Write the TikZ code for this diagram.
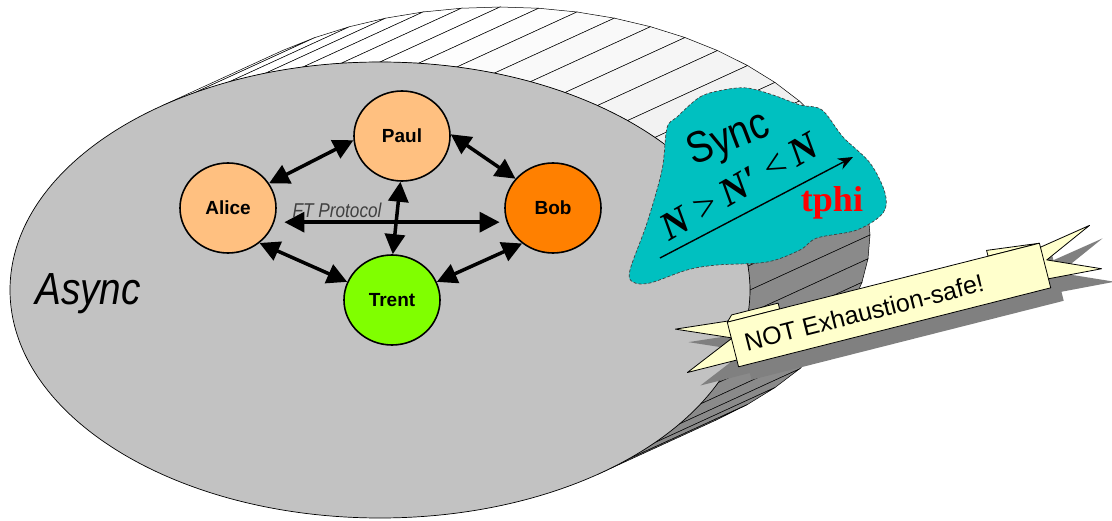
\documentclass[tikz,border=0pt]{standalone}
\usepackage{fontspec}
\setmainfont{Liberation Serif}
\setsansfont{Liberation Sans}
\newfontfamily\narrowsans[FakeStretch=0.86]{Liberation Sans}
\usepackage{tikz}
\usetikzlibrary{arrows.meta,shapes.geometric,positioning}
\definecolor{faceGray}    {RGB}{194,194,194}
\definecolor{sideDark}    {RGB}{137,137,137}
\definecolor{peerOrange}  {RGB}{255,192,128}
\definecolor{bobOrange}   {RGB}{255,128,0}
\definecolor{trentGreen}  {RGB}{128,255,0}
\definecolor{syncCyan}    {RGB}{0,192,192}
\definecolor{bannerYellow}{RGB}{255,255,204}
\definecolor{shadowGray}  {RGB}{128,128,128}

\tikzset{
  party/.style={ellipse,draw,line width=1.6pt,minimum width=96pt,
                minimum height=90pt,inner sep=0pt,
                font=\sffamily\bfseries\fontsize{19}{19}\selectfont},
  link/.style={{Triangle[length=20pt,width=20pt]}-{Triangle[length=20pt,width=20pt]},
               line width=3.5pt},
  bannerpart/.style={fill=bannerYellow,draw=black,line width=0.8pt,line join=round},
}

\begin{document}
\begin{tikzpicture}[x=1pt,y=-1pt]
  \useasboundingbox (0,0) rectangle (1112,521);

  % ════════ disco: lateral em faixas ════════
  \foreach \t in {126,120,...,-48}{
    \pgfmathsetmacro\tn{max(\t-6,-54)}
    \pgfmathsetmacro\sh{\t>15 ? max(0,(90-\t)*0.12) : 46}
    \filldraw[fill=black!\sh,draw=black,line width=0.5pt]
      ({380+370*cos(\t)},{290-228*sin(\t)})
      -- ({380+370*cos(\tn)},{290-228*sin(\tn)})
      -- ({500+370*cos(\tn)},{235-228*sin(\tn)})
      -- ({500+370*cos(\t)},{235-228*sin(\t)}) -- cycle;
  }
  % face da frente
  \filldraw[fill=faceGray,draw=black,line width=0.7pt]
    (380,290) ellipse [x radius=370,y radius=228];

  \node[font=\narrowsans\itshape\fontsize{45}{45}\selectfont] (async) at (88,294){Async};

  % ════════ participantes ════════
  \node[party,fill=peerOrange] (paul)  at (402,136){Paul};
  \node[party,fill=peerOrange] (alice) at (228,208){Alice};
  \node[party,fill=bobOrange]  (bob)   at (553,208){Bob};
  \node[party,fill=trentGreen] (trent) at (392,300){Trent};

  \draw[link] (alice.31)  -- (paul.185);
  \draw[link] (paul.2)    -- (bob.142);
  \draw[link] (alice.-48) -- (trent.158);
  \draw[link] (bob.-131)  -- (trent.22);
  \draw[link,shorten <=10pt,shorten >=7pt] (alice.-17) -- (bob.197)
    node[pos=0.27,above=-1pt,text=black!75,
         font=\narrowsans\itshape\fontsize{20}{20}\selectfont]{FT Protocol};
  \draw[link] (paul.-92)  -- (trent.89);

  % ════════ nuvem Sync ════════
  \filldraw[fill=syncCyan,draw=black!75,line width=0.7pt,
            dash pattern=on 3pt off 2pt]
    plot[smooth cycle,tension=0.55] coordinates{
      (677,117) (700,97) (723,90) (747,88) (773,95) (800,105) (822,110)
      (843,137) (870,163) (885,193) (883,213) (857,230) (817,238)
      (800,250) (767,262) (717,265) (687,270) (650,283) (633,282)
      (630,270) (647,223) (662,170) (667,128)};
  \node[rotate=21,font=\narrowsans\fontsize{44}{44}\selectfont] (sync) at (729,140){Sync};
  \node[rotate=30,font=\fontsize{39}{39}\selectfont] (ineq) at (740,186)
    {\textbf{\textit{N}}\,\textit{>}\,\textbf{\textit{N}}\textbf{′}\,\textit{<}\,\textbf{\textit{N}}};
  \coordinate (arrowFrom) at (660,258);
  \coordinate (arrowTo)   at (853,157);
  \draw[-{Stealth[length=15pt,width=12pt]},line width=1.4pt] (arrowFrom) -- (arrowTo);
  \node[text=red,font=\bfseries\fontsize{36}{36}\selectfont] (tphi) at (832,203){tphi};

  % ════════ faixa NOT Exhaustion-safe! ════════
  % sombra
  \begin{scope}[shift={(902,318)},rotate=14.2]
    \fill[shadowGray] (-213,-29) -- (-150,-23) -- (-150,16) -- (-212,16) -- (-160,-6.5) -- cycle;
    \fill[shadowGray] (214,-28) -- (150,-17) -- (150,13) -- (215,17) -- (164,-5) -- cycle;
    \fill[shadowGray] (-161,-23) rectangle (161,23);
  \end{scope}
  % faixa
  \begin{scope}[shift={(889,305)},rotate=14.2]
    \filldraw[bannerpart] (-213,-29) -- (-150,-23) -- (-150,16) -- (-212,16) -- (-160,-6.5) -- cycle;
    \filldraw[bannerpart] (214,-28) -- (150,-17) -- (150,13) -- (215,17) -- (164,-5) -- cycle;
    \filldraw[bannerpart] (-161,-23) -- (-155,-29) -- (-107,-29) -- (-107,-23) -- cycle;
    \filldraw[bannerpart] (108,-23) -- (108,-29) -- (161,-23) -- cycle;
    \node[bannerpart,transform shape,minimum width=322pt,minimum height=46pt,
          inner sep=0pt] (ribbon) at (0,0){};
    \node[transform shape,font=\sffamily\fontsize{25}{25}\selectfont] (ribbonText)
      at (-26,1){NOT Exhaustion-safe!};
  \end{scope}

\end{tikzpicture}
\end{document}
